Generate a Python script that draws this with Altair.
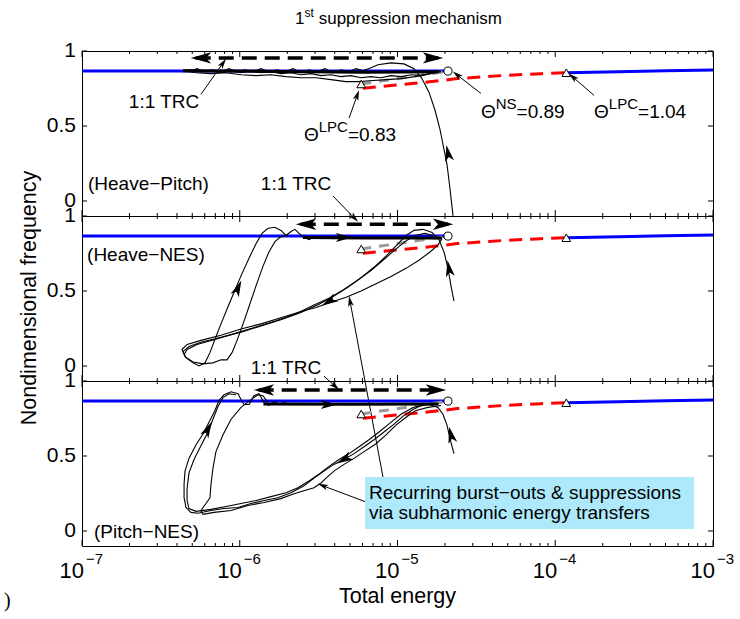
import altair as alt
import pandas as pd

FONT = "Liberation Sans"
W, H = 631, 165

XS = alt.Scale(type="log", domain=[1e-7, 1e-3], nice=False)
YS = alt.Scale(domain=[-0.1, 1.0], nice=False, zero=False)
ARROW = "M0,-1L0.55,1L0,0.5L-0.55,1Z"

# ---------------- NNM backbone (log10 total energy, frequency) ----------------
stable_low = [(-7.0, 0.866), (-4.68, 0.866)]
stable_high = [(-3.93, 0.855), (-3.6, 0.862), (-3.3, 0.868), (-3.0, 0.873)]
lpc_branch = [(-5.22, 0.752), (-5.04, 0.77), (-4.83, 0.79), (-4.62, 0.816),
              (-4.34, 0.836), (-4.09, 0.849), (-3.93, 0.855)]
unstable_branch = [(-5.23, 0.78), (-4.68, 0.866)]
lpc_points = [(-5.23, 0.78), (-3.93, 0.855)]
ns_points = [(-4.68, 0.866)]

# ---------------- transient trajectories ----------------
hp_a = [(-4.648, -0.099), (-4.667, 0.079), (-4.686, 0.243), (-4.705, 0.342), (-4.730, 0.474),
        (-4.762, 0.605), (-4.800, 0.724), (-4.845, 0.816), (-4.895, 0.882), (-4.959, 0.914),
        (-5.041, 0.921), (-5.124, 0.908), (-5.168, 0.888), (-5.219, 0.868), (-5.263, 0.882),
        (-5.307, 0.862), (-5.358, 0.875), (-5.409, 0.855), (-5.460, 0.882), (-5.510, 0.862),
        (-5.561, 0.875), (-5.612, 0.855), (-5.662, 0.882), (-5.713, 0.862), (-5.764, 0.875),
        (-5.815, 0.862), (-5.865, 0.882), (-5.916, 0.862), (-5.967, 0.875), (-6.017, 0.862),
        (-6.068, 0.882), (-6.119, 0.862), (-6.170, 0.875), (-6.220, 0.862), (-6.271, 0.882),
        (-6.322, 0.862), (-6.360, 0.875)]
hp_b = [(-6.360, 0.868), (-6.277, 0.855), (-6.182, 0.849), (-6.087, 0.855), (-5.992, 0.842),
        (-5.897, 0.836), (-5.802, 0.842), (-5.707, 0.829), (-5.612, 0.822), (-5.517, 0.822),
        (-5.422, 0.809), (-5.327, 0.796), (-5.244, 0.796), (-5.155, 0.803), (-5.067, 0.809),
        (-4.978, 0.816), (-4.889, 0.829), (-4.800, 0.849), (-4.724, 0.868)]
hp_c = [(-4.724, 0.862), (-4.788, 0.849), (-4.851, 0.836), (-4.914, 0.842), (-4.978, 0.829),
        (-5.041, 0.836), (-5.105, 0.822), (-5.168, 0.829), (-5.231, 0.822), (-5.295, 0.836),
        (-5.358, 0.829), (-5.422, 0.842), (-5.485, 0.836), (-5.548, 0.849), (-5.612, 0.842),
        (-5.675, 0.855), (-5.739, 0.849), (-5.802, 0.862), (-5.865, 0.855), (-5.929, 0.868),
        (-5.992, 0.855), (-6.055, 0.868), (-6.119, 0.855), (-6.182, 0.868), (-6.246, 0.862),
        (-6.309, 0.875), (-6.347, 0.868)]
hp_band = [(-6.36, 0.868), (-5.60, 0.862), (-5.20, 0.858), (-4.74, 0.862)]

hn_a = [(-4.642, 0.432), (-4.661, 0.534), (-4.680, 0.651), (-4.705, 0.760), (-4.737, 0.842),
        (-4.781, 0.890), (-4.838, 0.911), (-4.895, 0.904), (-4.946, 0.870), (-5.003, 0.808),
        (-5.073, 0.733), (-5.149, 0.658), (-5.231, 0.589), (-5.320, 0.521), (-5.403, 0.466),
        (-5.498, 0.411), (-5.612, 0.356), (-5.739, 0.308), (-5.865, 0.267), (-5.992, 0.226),
        (-6.119, 0.192), (-6.246, 0.158), (-6.322, 0.130), (-6.360, 0.096), (-6.341, 0.055),
        (-6.296, 0.021), (-6.258, 0.0), (-6.220, 0.021), (-6.189, 0.089), (-6.157, 0.178),
        (-6.119, 0.281), (-6.074, 0.397), (-6.030, 0.507), (-5.986, 0.616), (-5.941, 0.719),
        (-5.897, 0.815), (-5.859, 0.884), (-5.821, 0.918), (-5.777, 0.925), (-5.739, 0.904),
        (-5.707, 0.870), (-5.675, 0.897), (-5.650, 0.911), (-5.624, 0.884), (-5.599, 0.863),
        (-5.561, 0.842), (-5.523, 0.863), (-5.485, 0.849), (-5.447, 0.863), (-5.409, 0.849),
        (-5.358, 0.856), (-5.263, 0.856), (-5.168, 0.856), (-5.073, 0.856), (-4.978, 0.856),
        (-4.883, 0.856), (-4.788, 0.856), (-4.718, 0.849)]
hn_b = [(-4.718, 0.849), (-4.743, 0.808), (-4.794, 0.760), (-4.864, 0.705), (-4.946, 0.651),
        (-5.041, 0.596), (-5.136, 0.548), (-5.231, 0.500), (-5.326, 0.459), (-5.422, 0.425),
        (-5.517, 0.390), (-5.612, 0.363), (-5.739, 0.322), (-5.865, 0.281), (-5.992, 0.247),
        (-6.119, 0.205), (-6.246, 0.171), (-6.334, 0.144), (-6.366, 0.110), (-6.347, 0.062),
        (-6.296, 0.027), (-6.233, 0.014), (-6.170, 0.021), (-6.119, 0.041), (-6.081, 0.041),
        (-6.049, 0.089), (-6.017, 0.171), (-5.979, 0.281), (-5.941, 0.397), (-5.897, 0.534),
        (-5.853, 0.664), (-5.815, 0.760), (-5.777, 0.829), (-5.739, 0.863), (-5.694, 0.870)]
hn_c = [(-4.775, 0.870), (-4.826, 0.884), (-4.889, 0.870), (-4.953, 0.829), (-5.016, 0.774),
        (-5.092, 0.705), (-5.168, 0.637), (-5.257, 0.568), (-5.345, 0.507), (-5.434, 0.452),
        (-5.536, 0.404), (-5.643, 0.349), (-5.770, 0.301), (-5.897, 0.260), (-6.024, 0.219),
        (-6.151, 0.178), (-6.271, 0.144), (-6.334, 0.110), (-6.353, 0.075)]
hn_band = [(-5.60, 0.856), (-5.20, 0.853), (-4.72, 0.853)]

pn_a = [(-4.642, 0.516), (-4.667, 0.614), (-4.686, 0.706), (-4.712, 0.778), (-4.743, 0.824),
        (-4.800, 0.843), (-4.851, 0.837), (-4.902, 0.810), (-4.959, 0.771), (-5.022, 0.712),
        (-5.086, 0.660), (-5.149, 0.608), (-5.212, 0.562), (-5.276, 0.516), (-5.339, 0.477),
        (-5.403, 0.444), (-5.466, 0.399), (-5.529, 0.353), (-5.593, 0.301), (-5.675, 0.255),
        (-5.758, 0.222), (-5.846, 0.203), (-5.929, 0.183), (-6.011, 0.157), (-6.100, 0.150),
        (-6.182, 0.137), (-6.265, 0.118), (-6.309, 0.124), (-6.341, 0.157), (-6.353, 0.222),
        (-6.353, 0.314), (-6.347, 0.399), (-6.322, 0.484), (-6.277, 0.575), (-6.233, 0.647),
        (-6.195, 0.725), (-6.157, 0.804), (-6.132, 0.869), (-6.100, 0.908), (-6.055, 0.928),
        (-6.011, 0.915), (-5.992, 0.876), (-5.973, 0.843), (-5.941, 0.843), (-5.910, 0.902),
        (-5.878, 0.915), (-5.846, 0.856), (-5.815, 0.837), (-5.783, 0.863), (-5.751, 0.843),
        (-5.720, 0.856), (-5.675, 0.843), (-5.612, 0.850), (-5.517, 0.850), (-5.422, 0.850),
        (-5.326, 0.850), (-5.231, 0.850), (-5.136, 0.850), (-5.041, 0.850), (-4.946, 0.850),
        (-4.851, 0.850), (-4.743, 0.850)]
pn_b = [(-4.724, 0.837), (-4.807, 0.824), (-4.883, 0.804), (-4.946, 0.758), (-5.010, 0.706),
        (-5.073, 0.641), (-5.136, 0.582), (-5.212, 0.529), (-5.276, 0.484), (-5.339, 0.444),
        (-5.403, 0.399), (-5.453, 0.353), (-5.485, 0.320), (-5.529, 0.288), (-5.593, 0.268),
        (-5.656, 0.248), (-5.739, 0.216), (-5.846, 0.190), (-5.948, 0.170), (-6.055, 0.137),
        (-6.163, 0.124), (-6.233, 0.111), (-6.246, 0.137), (-6.214, 0.183), (-6.189, 0.222),
        (-6.182, 0.314), (-6.170, 0.418), (-6.151, 0.529), (-6.106, 0.641), (-6.055, 0.745),
        (-5.992, 0.824), (-5.929, 0.876), (-5.884, 0.908), (-5.853, 0.902), (-5.821, 0.856)]
pn_c = [(-4.743, 0.850), (-4.819, 0.843), (-4.902, 0.824), (-4.978, 0.778), (-5.048, 0.719),
        (-5.117, 0.660), (-5.181, 0.608), (-5.244, 0.562), (-5.307, 0.516), (-5.371, 0.477),
        (-5.434, 0.431), (-5.498, 0.379), (-5.561, 0.333), (-5.631, 0.288), (-5.707, 0.255),
        (-5.802, 0.229), (-5.897, 0.203), (-5.992, 0.183), (-6.087, 0.163), (-6.182, 0.144),
        (-6.277, 0.131), (-6.322, 0.150), (-6.334, 0.203), (-6.334, 0.281), (-6.322, 0.386),
        (-6.290, 0.477), (-6.246, 0.569), (-6.201, 0.660), (-6.170, 0.745), (-6.138, 0.830),
        (-6.106, 0.889), (-6.068, 0.915), (-6.024, 0.908)]
pn_band = [(-5.85, 0.847), (-5.30, 0.845), (-4.74, 0.847)]

# direction arrows on the trajectories: (log10 E, freq, heading in degrees)
hp_heads = [(-4.68, 0.32, 349)]
hn_heads = [(-6.011, 0.52, 24), (-5.339, 0.856, 90), (-5.434, 0.43, 240), (-4.674, 0.651, 350)]
pn_heads = [(-6.201, 0.680, 27), (-5.434, 0.843, 90), (-5.339, 0.477, 241), (-4.661, 0.641, 347)]

# 1:1 TRC energy ranges: (left log10 E, right log10 E, freq)
trc_hp = (-6.309, -4.712, 0.954)
trc_hn = (-5.643, -4.648, 0.945)
trc_pn = (-5.910, -4.693, 0.940)

# annotation arrows: (start logE, start f, head logE, head f, heading)
notes_hp = [(-6.246, 0.711, -6.106, 0.920, 35), (-5.307, 0.553, -5.255, 0.706, 20),
            (-4.471, 0.717, -4.623, 0.841, 308), (-3.754, 0.704, -3.889, 0.827, 311),
            (-5.409, 0.033, -5.273, -0.114, 136)]
notes_hn = [(-5.466, -0.068, -5.395, -0.135, 131), (-5.086, -0.774, -5.301, 0.432, 349)]
notes_pn = [(-5.206, 0.196, -5.474, 0.302, 291)]

# bifurcation labels: (log10 E, freq, superscript, value text)
theta_labels = [(-5.593, 0.401, "LPC", "=0.83"), (-4.471, 0.553, "NS", "=0.89"),
                (-3.754, 0.553, "LPC", "=1.04")]
trc_text_hp = [(-6.480, 0.658, "1:1 TRC"), (-5.643, 0.112, "1:1 TRC")]
trc_text_hn = [(-5.707, -0.01, "1:1 TRC")]
panel_names = [(-6.962, 0.112, "(Heave\u2212Pitch)"), (-6.968, 0.740, "(Heave\u2212NES)"),
               (-6.924, -0.007, "(Pitch\u2212NES)")]
box_extent = (-5.206, -3.120, 0.013, 0.36)
box_lines = [(-5.181, 0.255, "Recurring burst\u2212outs & suppressions"),
             (-5.181, 0.118, "via subharmonic energy transfers")]

major_ticks = [1e-7, 1e-6, 1e-5, 1e-4, 1e-3]
minor_ticks = [m * 10.0 ** d for d in range(-7, -3) for m in range(2, 10)]
tick_exponents = ["\u22127", "\u22126", "\u22125", "\u22124", "\u22123"]
freq_ticks = [0, 0.5, 1]
freq_labels = ["0", "0.5", "1"]

X = alt.X("E:Q", scale=XS, axis=None)
Y = alt.Y("f:Q", scale=YS, axis=None)


def frame(paths):
    rows = []
    for s, pts in enumerate(paths):
        for i, (le, fr) in enumerate(pts):
            rows.append({"E": 10 ** le, "f": fr, "seg": s, "i": i})
    return pd.DataFrame(rows)


def lines(paths, **mark):
    return alt.Chart(frame(paths)).mark_line(**mark).encode(
        x=X, y=Y, detail="seg:N", order="i:Q")


def heads(items, size):
    df = pd.DataFrame({"E": [10 ** a for a, _, _ in items],
                       "f": [b for _, b, _ in items],
                       "a": [c for _, _, c in items]})
    return alt.Chart(df).mark_point(shape=ARROW, filled=True, color="black", opacity=1,
                                    size=size, strokeWidth=0).encode(
        x=X, y=Y, angle=alt.Angle("a:Q", scale=None))


def texts(items, size=19, **mark):
    df = pd.DataFrame({"E": [10 ** a for a, _, _ in items],
                       "f": [b for _, b, _ in items],
                       "t": [c for _, _, c in items]})
    return alt.Chart(df).mark_text(font=FONT, fontSize=size, color="black", **mark).encode(
        x=X, y=Y, text="t:N")


def fixed_text(t, x, y, size=19, font=FONT, **mark):
    return alt.Chart(pd.DataFrame({"t": [t]})).mark_text(
        font=font, fontSize=size, color="black", **mark).encode(
        x=alt.value(x), y=alt.value(y), text="t:N")


def backbone():
    return [
        lines([stable_low, stable_high], color="#0000ff", strokeWidth=3),
        lines([lpc_branch], color="#ff0000", strokeWidth=3, strokeDash=[13, 8]),
        lines([unstable_branch], color="#999999", strokeWidth=3, strokeDash=[10, 8]),
    ]


def markers():
    return [
        alt.Chart(frame([lpc_points])).mark_point(shape="triangle-up", size=75, fill="white",
                                                  filled=True, stroke="black", strokeWidth=1,
                                                  opacity=1).encode(x=X, y=Y),
        alt.Chart(frame([ns_points])).mark_point(shape="circle", size=65, fill="white",
                                                 filled=True, stroke="black", strokeWidth=1,
                                                 opacity=1).encode(x=X, y=Y),
    ]


def trc(rng):
    lo, hi, fr = rng
    shaft = lines([[(lo + 0.03, fr), (hi - 0.03, fr)]], color="black", strokeWidth=3.5,
                  strokeDash=[15, 8])
    tips = heads([(lo + 0.063, fr, 270), (hi - 0.063, fr, 90)], 420)
    return [shaft, tips]


def notes(items):
    shafts = lines([[(a, b), (c, d)] for a, b, c, d, _ in items], color="black", strokeWidth=1)
    tips = heads([(c, d, e) for _, _, c, d, e in items], 110)
    return [shafts, tips]


def frame_ticks():
    rule = dict(color="black", strokeWidth=1)
    maj = pd.DataFrame({"E": major_ticks})
    mnr = pd.DataFrame({"E": minor_ticks})
    out = []
    for df, ln in ((maj, 6), (mnr, 3)):
        out.append(alt.Chart(df).mark_rule(**rule).encode(x=X, y=alt.value(0), y2=alt.value(ln)))
        out.append(alt.Chart(df).mark_rule(**rule).encode(x=X, y=alt.value(H), y2=alt.value(H - ln)))
    yt = pd.DataFrame({"f": freq_ticks, "t": freq_labels})
    out.append(alt.Chart(yt).mark_rule(**rule).encode(y=Y, x=alt.value(0), x2=alt.value(5)))
    out.append(alt.Chart(yt).mark_rule(**rule).encode(y=Y, x=alt.value(W), x2=alt.value(W - 5)))
    out.append(alt.Chart(yt).mark_text(font=FONT, fontSize=21, align="right", baseline="middle",
                                       color="black").encode(y=Y, x=alt.value(-6), text="t:N"))
    return out


def trajectories(paths, arrow_items, band):
    return [lines(paths, color="black", strokeWidth=1.1),
            lines([band], color="black", strokeWidth=3),
            heads(arrow_items, 270)]


# ---------------- top panel: Heave-Pitch ----------------
theta_df = pd.DataFrame({"E": [10 ** a for a, _, _, _ in theta_labels],
                         "f": [b for _, b, _, _ in theta_labels],
                         "sup": [c for _, _, c, _ in theta_labels],
                         "val": [d for _, _, _, d in theta_labels]})
theta_base = alt.Chart(theta_df).encode(x=X, y=Y)
theta_layers = [
    theta_base.mark_text(font=FONT, fontSize=19, align="left", baseline="alphabetic",
                         color="black").encode(text=alt.value("\u0398")),
    theta_base.mark_text(font=FONT, fontSize=15, align="left", baseline="alphabetic",
                         dx=14.8, dy=-9, color="black").encode(text="sup:N"),
    theta_base.transform_filter("datum.sup == 'LPC'").mark_text(
        font=FONT, fontSize=19, align="left", baseline="alphabetic", dx=44,
        color="black").encode(text="val:N"),
    theta_base.transform_filter("datum.sup == 'NS'").mark_text(
        font=FONT, fontSize=19, align="left", baseline="alphabetic", dx=35.6,
        color="black").encode(text="val:N"),
]

title_layers = [
    fixed_text("1", 213, -32, size=17, align="left", baseline="middle"),
    fixed_text("st", 222.5, -38, size=12, align="left", baseline="middle"),
    fixed_text("suppression mechanism", 236.7, -32, size=17, align="left", baseline="middle"),
]

top = alt.layer(
    *backbone(),
    *trajectories([hp_a, hp_b, hp_c], hp_heads, hp_band),
    *markers(),
    *trc(trc_hp),
    *notes(notes_hp),
    *theta_layers,
    texts(trc_text_hp, align="center", baseline="middle"),
    texts(panel_names[:1], align="left", baseline="middle"),
    *title_layers,
    *frame_ticks(),
).properties(width=W, height=H)

# ---------------- middle panel: Heave-NES ----------------
mid = alt.layer(
    *backbone(),
    *trajectories([hn_a, hn_b, hn_c], hn_heads, hn_band),
    *markers(),
    *trc(trc_hn),
    *notes(notes_hn),
    texts(trc_text_hn, align="center", baseline="middle"),
    texts(panel_names[1:2], align="left", baseline="middle"),
    fixed_text("Nondimensional frequency", -52, 82, size=21.5, angle=270,
               align="center", baseline="middle"),
    *frame_ticks(),
).properties(width=W, height=H)

# ---------------- bottom panel: Pitch-NES ----------------
box_df = pd.DataFrame({"E": [10 ** box_extent[0]], "E2": [10 ** box_extent[1]],
                       "f": [box_extent[2]], "f2": [box_extent[3]]})
box = alt.Chart(box_df).mark_rect(fill="#aee9fb").encode(x=X, x2="E2:Q", y=Y, y2="f2:Q")

xlab_df = pd.DataFrame({"E": major_ticks, "exp": tick_exponents})
xlab_base = alt.Chart(xlab_df).encode(x=X)
xlab_layers = [
    xlab_base.mark_text(font=FONT, fontSize=22, align="right", baseline="alphabetic", dx=2,
                        color="black").encode(y=alt.value(H + 32), text=alt.value("10")),
    xlab_base.mark_text(font=FONT, fontSize=15, align="left", baseline="alphabetic", dx=4,
                        color="black").encode(y=alt.value(H + 18), text="exp:N"),
]

bot = alt.layer(
    *backbone(),
    *trajectories([pn_a, pn_b, pn_c], pn_heads, pn_band),
    *markers(),
    *trc(trc_pn),
    box,
    *notes(notes_pn),
    texts(box_lines, align="left", baseline="middle"),
    texts(panel_names[2:], align="left", baseline="middle"),
    *xlab_layers,
    fixed_text("Total energy", W / 2, H + 51, size=21.5, align="center", baseline="middle"),
    fixed_text(")", -78, H + 55, size=20, font="Liberation Serif", align="left",
               baseline="middle"),
    *frame_ticks(),
).properties(width=W, height=H)

chart = alt.vconcat(top, mid, bot, spacing=0, bounds="flush").properties(
    padding={"left": 3, "top": 6, "right": 0, "bottom": 0},
    background="white",
).configure_view(stroke="black", strokeWidth=1)

chart.save("out.html", embed_options={"renderer": "svg", "actions": False})
